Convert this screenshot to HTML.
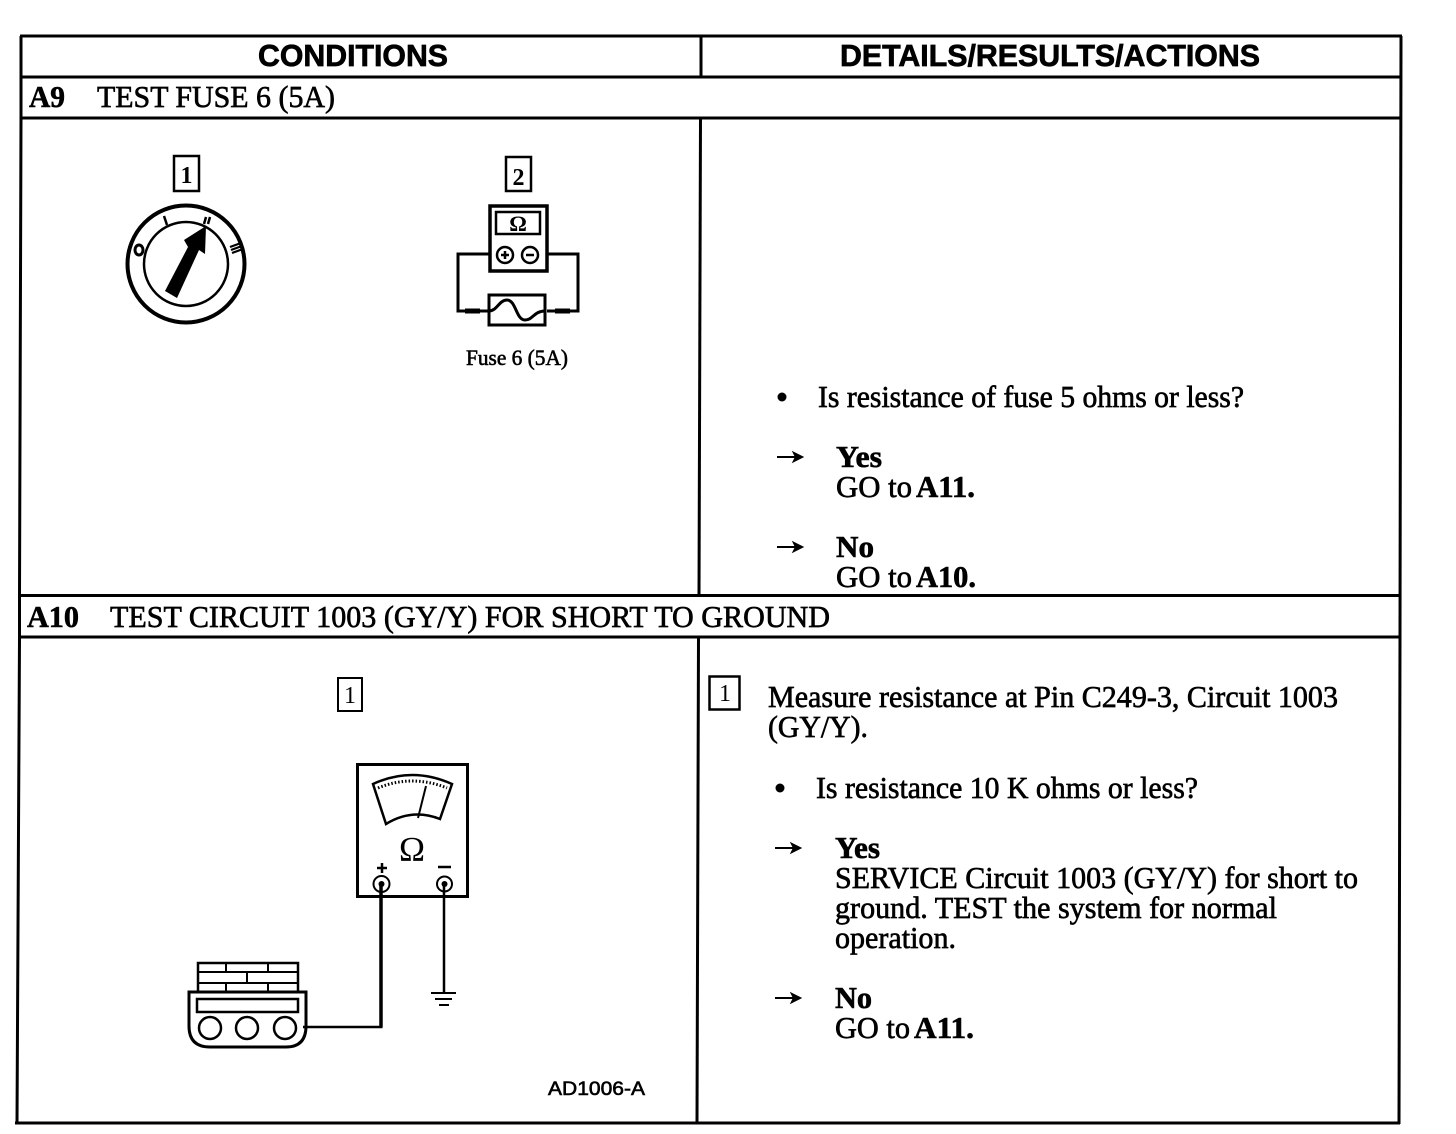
<!DOCTYPE html>
<html><head><meta charset="utf-8"><style>
html,body{margin:0;padding:0;background:#fff}
svg{display:block}
.h{font-family:"Liberation Sans",sans-serif;font-weight:bold;font-size:31px;stroke:#000;stroke-width:.7}
.t{font-family:"Liberation Serif",serif;font-size:31px;stroke:#000;stroke-width:.65}
.b{font-family:"Liberation Serif",serif;font-size:31px;font-weight:bold;stroke:#000;stroke-width:.6}
.s{font-family:"Liberation Serif",serif;font-size:22px;stroke:#000;stroke-width:.6}
.n{font-family:"Liberation Serif",serif;font-size:24px;font-weight:bold;text-anchor:middle}
</style></head><body>
<svg width="1456" height="1134" viewBox="0 0 1456 1134" xmlns="http://www.w3.org/2000/svg">
<rect width="1456" height="1134" fill="#fff"/>
<g stroke="#000" fill="none" stroke-width="3">
<path d="M20 36H1402"/><path d="M20 77H1401"/><path d="M20 118H1401"/><path d="M18 595.500H1400"/><path d="M18 637H1400"/><path d="M15 1123H1400"/>
<path d="M21 36V118L19.500 595V637L17 1123"/><path d="M1401 36L1400 637L1399 1124"/>
<path d="M701 36V77"/><path d="M700.500 118L699 595"/><path d="M698.500 637L697 1123"/>
</g>
<text class="h" x="258" y="66" textLength="190" lengthAdjust="spacingAndGlyphs">CONDITIONS</text>
<text class="h" x="840" y="66" textLength="420" lengthAdjust="spacingAndGlyphs">DETAILS/RESULTS/ACTIONS</text>
<text class="b" x="29" y="107" textLength="36" lengthAdjust="spacingAndGlyphs">A9</text>
<text class="t" x="97" y="107" textLength="238" lengthAdjust="spacingAndGlyphs">TEST FUSE 6 (5A)</text>
<text class="b" x="27" y="627" textLength="52" lengthAdjust="spacingAndGlyphs">A10</text>
<text class="t" x="110" y="627" textLength="720" lengthAdjust="spacingAndGlyphs">TEST CIRCUIT 1003 (GY/Y) FOR SHORT TO GROUND</text>

<!-- A9 right -->
<circle cx="782" cy="397" r="4.500" fill="#000"/>
<text class="t" x="818" y="407" textLength="426" lengthAdjust="spacingAndGlyphs">Is resistance of fuse 5 ohms or less?</text>
<g stroke="#000" stroke-width="2" fill="#000">
<path d="M777 457H800" fill="none"/><path d="M794 453L802 457L794 461L796 457Z"/>
<path d="M777 547H800" fill="none"/><path d="M794 543L802 547L794 551L796 547Z"/>
<path d="M775 848H798" fill="none"/><path d="M792 844L800 848L792 852L794 848Z"/>
<path d="M775 998H798" fill="none"/><path d="M792 994L800 998L792 1002L794 998Z"/>
</g>
<text class="b" x="836" y="467" textLength="46" lengthAdjust="spacingAndGlyphs">Yes</text>
<text class="t" x="836" y="497" textLength="76" lengthAdjust="spacingAndGlyphs">GO to</text><text class="b" x="916" y="497" textLength="59" lengthAdjust="spacingAndGlyphs">A11.</text>
<text class="b" x="836" y="557" textLength="38" lengthAdjust="spacingAndGlyphs">No</text>
<text class="t" x="836" y="587" textLength="76" lengthAdjust="spacingAndGlyphs">GO to</text><text class="b" x="916" y="587" textLength="60" lengthAdjust="spacingAndGlyphs">A10.</text>

<!-- A10 right -->
<rect x="709.500" y="676.500" width="30" height="33" fill="none" stroke="#000" stroke-width="2.500"/>
<text class="n" x="725" y="701" style="font-weight:normal">1</text>
<text class="t" x="768" y="707" textLength="570" lengthAdjust="spacingAndGlyphs">Measure resistance at Pin C249-3, Circuit 1003</text>
<text class="t" x="768" y="737" textLength="100" lengthAdjust="spacingAndGlyphs">(GY/Y).</text>
<circle cx="780" cy="788" r="4.500" fill="#000"/>
<text class="t" x="816" y="798" textLength="382" lengthAdjust="spacingAndGlyphs">Is resistance 10 K ohms or less?</text>
<text class="b" x="835" y="858" textLength="45" lengthAdjust="spacingAndGlyphs">Yes</text>
<text class="t" x="835" y="888" textLength="523" lengthAdjust="spacingAndGlyphs">SERVICE Circuit 1003 (GY/Y) for short to</text>
<text class="t" x="835" y="918" textLength="442" lengthAdjust="spacingAndGlyphs">ground. TEST the system for normal</text>
<text class="t" x="835" y="948" textLength="121" lengthAdjust="spacingAndGlyphs">operation.</text>
<text class="b" x="835" y="1008" textLength="37" lengthAdjust="spacingAndGlyphs">No</text>
<text class="t" x="835" y="1038" textLength="75" lengthAdjust="spacingAndGlyphs">GO to</text><text class="b" x="914" y="1038" textLength="60" lengthAdjust="spacingAndGlyphs">A11.</text>

<!-- Key diagram -->
<rect x="174" y="156" width="25" height="35" fill="none" stroke="#000" stroke-width="2.500"/>
<text class="n" x="186.500" y="183">1</text>
<circle cx="186" cy="264" r="58.500" fill="none" stroke="#000" stroke-width="4"/>
<circle cx="186" cy="264" r="42" fill="none" stroke="#000" stroke-width="2.500"/>
<path d="M165 291L188 247L184 240L206 226L205 254L199 250L177 298Z" fill="#000"/>
<g stroke="#000" fill="none" stroke-width="2">
<path d="M164 216L167 225" stroke-width="2.500"/><path d="M206 217L204 224M210 217L208 224" stroke-width="2.500"/>
<path d="M230 247L241 243M231 250L242 246M232 253L243 249" stroke-width="2.200"/>
<ellipse cx="139" cy="250" rx="4" ry="5" stroke-width="3"/>
</g>

<!-- Fuse meter -->
<rect x="506" y="157" width="25" height="34" fill="none" stroke="#000" stroke-width="2.500"/>
<text class="n" x="518.500" y="185">2</text>
<rect x="490" y="206" width="57" height="65" fill="none" stroke="#000" stroke-width="3.500"/>
<rect x="496" y="212" width="44" height="22" fill="none" stroke="#000" stroke-width="2.500"/>
<text x="518" y="231" text-anchor="middle" style="font-family:'Liberation Serif',serif;font-size:22px;font-weight:bold">Ω</text>
<circle cx="505" cy="255" r="8" fill="none" stroke="#000" stroke-width="2.500"/>
<circle cx="530" cy="255" r="8" fill="none" stroke="#000" stroke-width="2.500"/>
<path d="M501 255H509M505 251V259M526 255H534" stroke="#000" stroke-width="2.500"/>
<path d="M490 254H458V311H490M547 254H578V311H547" fill="none" stroke="#000" stroke-width="3"/>
<path d="M465 311H480M555 311H570" stroke="#000" stroke-width="5"/>
<rect x="489" y="295" width="56" height="30" fill="none" stroke="#000" stroke-width="3"/>
<path d="M489 311C497 311 499 300 507 300C516 300 516 320 525 320C533 320 534 311 545 311" fill="none" stroke="#000" stroke-width="3"/>
<text class="s" x="466" y="365" textLength="102" lengthAdjust="spacingAndGlyphs">Fuse 6 (5A)</text>

<!-- A10 left -->
<rect x="338" y="678" width="24" height="33" fill="none" stroke="#000" stroke-width="2"/>
<text class="n" x="350" y="703" style="font-weight:normal">1</text>
<rect x="357.500" y="764.500" width="110" height="132" fill="none" stroke="#000" stroke-width="3"/>
<path d="M373 784Q412 766 452 784L440 819Q412 808 386 824Z" fill="none" stroke="#000" stroke-width="2.500"/>
<path d="M378 788Q412 774 447 788" fill="none" stroke="#000" stroke-width="3" stroke-dasharray="1.500 2"/>
<path d="M426 786L418 818" fill="none" stroke="#000" stroke-width="2"/>
<text x="412" y="861" text-anchor="middle" style="font-family:'Liberation Serif',serif;font-size:35px">Ω</text>
<path d="M377 868H387M382 863V873M438 867H451" stroke="#000" stroke-width="2.500"/>
<circle cx="381.500" cy="884" r="8" fill="none" stroke="#000" stroke-width="2"/>
<circle cx="444.500" cy="884" r="7.500" fill="none" stroke="#000" stroke-width="2"/>
<circle cx="381.500" cy="884" r="3" fill="#000"/><circle cx="444.500" cy="884" r="3" fill="#000"/>
<path d="M381 884V1027" fill="none" stroke="#000" stroke-width="3.500"/>
<path d="M382.500 1027H303" fill="none" stroke="#000" stroke-width="2.500"/>
<path d="M444 884V993" fill="none" stroke="#000" stroke-width="2.500"/>
<path d="M431 993H456" stroke="#000" stroke-width="2"/><path d="M435 999H452" stroke="#000" stroke-width="2"/><path d="M439 1005H449" stroke="#000" stroke-width="2"/>
<g fill="none" stroke="#000" stroke-width="2.500">
<path d="M198 992V963H298V992"/>
<path d="M198 972H298M198 983H298M226 963V972M268 963V972M247 972V983M226 983V992M268 983V992" stroke-width="2"/>
<path d="M189 992H306V1026Q306 1047 286 1047H210Q189 1047 189 1026Z" stroke-width="3"/>
<rect x="197" y="999" width="101" height="13"/>
<circle cx="210" cy="1028" r="11"/><circle cx="247" cy="1028" r="11"/><circle cx="285" cy="1028" r="11"/>
</g>
<text x="548" y="1095" textLength="97" lengthAdjust="spacingAndGlyphs" style="font-family:'Liberation Sans',sans-serif;font-size:19px;stroke:#000;stroke-width:.6">AD1006-A</text>
</svg>
</body></html>
